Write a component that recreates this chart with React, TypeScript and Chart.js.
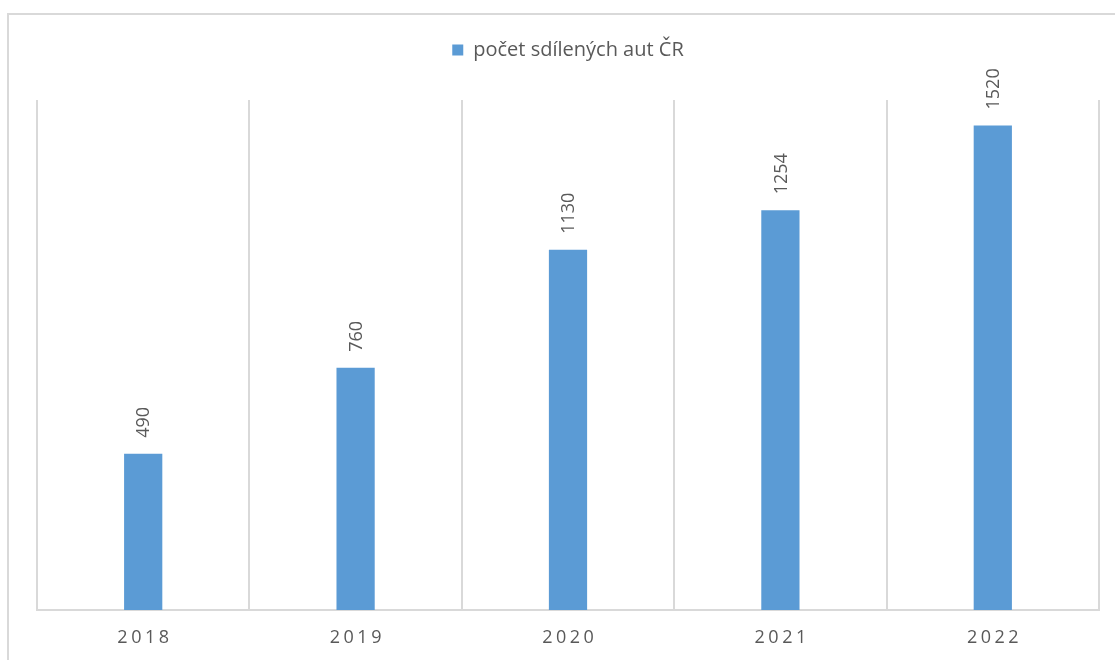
import React, { useEffect, useRef } from 'react';
import { Chart, registerables } from 'chart.js';

Chart.register(...registerables);

const categories: string[] = ['2018', '2019', '2020', '2021', '2022'];
const seriesName = 'počet sdílených aut ČR';
const values: number[] = [490, 760, 1130, 1254, 1520];
const yMin = 0;
const yMax = 1600;

const FONT = '"Open Sans", "Noto Sans", sans-serif';
const TEXT = '#595959';
const GRID = '#d9d9d9';
const BAR = '#5B9BD5';

const framePlugin = {
  id: 'frame',
  beforeDraw(chart: any) {
    const ctx = chart.ctx;
    ctx.save();
    ctx.fillStyle = '#ffffff';
    ctx.fillRect(0, 0, chart.width, chart.height);
    ctx.strokeStyle = GRID;
    ctx.lineWidth = 2;
    ctx.beginPath();
    ctx.moveTo(8, chart.height + 5);
    ctx.lineTo(8, 14);
    ctx.lineTo(chart.width + 5, 14);
    ctx.stroke();
    ctx.restore();
  },
};

const valueLabelPlugin = {
  id: 'valueLabels',
  afterDatasetsDraw(chart: any) {
    const ctx = chart.ctx;
    const meta = chart.getDatasetMeta(0);
    ctx.save();
    ctx.font = `18px ${FONT}`;
    ctx.fillStyle = TEXT;
    ctx.textAlign = 'left';
    ctx.textBaseline = 'middle';
    meta.data.forEach((el: any, i: number) => {
      ctx.save();
      ctx.translate(el.x + 1, el.y - 16);
      ctx.rotate(-Math.PI / 2);
      ctx.fillText(String(values[i]), 0, 0);
      ctx.restore();
    });
    ctx.restore();
  },
};

const xLabelPlugin = {
  id: 'xLabels',
  afterDraw(chart: any) {
    const ctx = chart.ctx;
    const scale = chart.scales.x;
    const spacing = 3.5;
    ctx.save();
    ctx.font = `18px ${FONT}`;
    ctx.fillStyle = TEXT;
    ctx.textAlign = 'left';
    ctx.textBaseline = 'middle';
    (ctx as any).letterSpacing = `${spacing}px`;
    categories.forEach((lab, i) => {
      const x = scale.getPixelForValue(i);
      const w = ctx.measureText(lab).width - spacing;
      ctx.fillText(lab, x - w / 2, scale.bottom + 28);
    });
    (ctx as any).letterSpacing = '0px';
    ctx.restore();
  },
};

export default function App() {
  const ref = useRef<HTMLCanvasElement>(null);

  useEffect(() => {
    if (!ref.current) return;
    const chart = new Chart(ref.current, {
      type: 'bar',
      data: {
        labels: categories,
        datasets: [
          {
            label: seriesName,
            data: values,
            backgroundColor: BAR,
            borderWidth: 0,
            categoryPercentage: 1,
            barPercentage: 0.18,
          },
        ],
      },
      options: {
        responsive: false,
        animation: false,
        devicePixelRatio: 1,
        layout: { padding: { top: 30, left: 37, right: 16, bottom: 50 } },
        plugins: {
          legend: {
            display: true,
            position: 'top',
            weight: 3000,
            labels: {
              boxWidth: 11,
              boxHeight: 11,
              padding: 10,
              color: TEXT,
              font: { family: FONT, size: 20 },
            },
          } as any,
          title: {
            display: true,
            text: '',
            font: { size: 10 },
            padding: { top: 0, bottom: 18 },
          },
          tooltip: { enabled: false },
        },
        scales: {
          x: {
            display: true,
            offset: true,
            grid: {
              display: true,
              offset: true,
              color: GRID,
              lineWidth: 2,
              drawTicks: false,
            },
            border: { display: true, color: GRID, width: 2 },
            ticks: { display: false },
          },
          y: {
            display: false,
            min: yMin,
            max: yMax,
          },
        },
      },
      plugins: [framePlugin, valueLabelPlugin, xLabelPlugin],
    });
    return () => chart.destroy();
  }, []);

  return (
    <canvas
      ref={ref}
      width={1115}
      height={660}
      style={{ position: 'fixed', left: 0, top: 0, width: 1115, height: 660 }}
    />
  );
}
